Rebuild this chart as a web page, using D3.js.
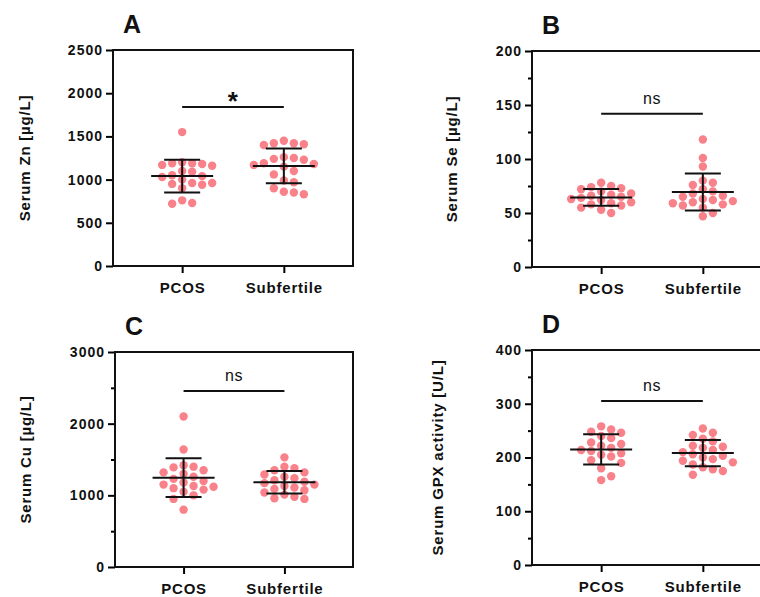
<!DOCTYPE html>
<html>
<head>
<meta charset="utf-8">
<script src="https://cdn.jsdelivr.net/npm/d3@7"></script>
<style>
  body { margin: 0; background: #fff; }
  text { font-family: "Liberation Sans", Arial, sans-serif; }
</style>
</head>
<body>
<script>
var width = 760, height = 597;

// groups on the x axis
var categories = ["PCOS", "Subfertile"];

// panel A - serum zinc (µg/L)
var znPcos = [1550, 1200, 1190, 1180, 1170, 1190, 1160, 1100, 1090, 1050, 1040,
              1030, 1000, 960, 950, 940, 960, 900, 760, 720, 730];
var znSub  = [1450, 1420, 1410, 1400, 1420, 1260, 1250, 1240, 1230, 1190, 1180,
              1170, 1150, 1100, 1060, 990, 970, 900, 850, 830, 860];

// panel B - serum selenium (µg/L)
var sePcos = [78, 75, 74, 73, 72, 70, 68, 67, 66, 65, 64, 63, 62, 60, 59, 58, 57, 55, 53, 50];
var seSub  = [118, 101, 93, 80, 78, 76, 72, 70, 68, 66, 65, 63, 62, 61, 60, 59, 58, 57, 55, 50, 47];

// panel C - serum copper (µg/L)
var cuPcos = [2100, 1640, 1420, 1400, 1390, 1350, 1320, 1300, 1260, 1230, 1200,
              1180, 1150, 1130, 1120, 1100, 1080, 1050, 1000, 950, 800];
var cuSub  = [1530, 1400, 1380, 1350, 1320, 1290, 1260, 1240, 1210, 1190, 1170,
              1150, 1130, 1110, 1090, 1070, 1040, 1010, 980, 960, 950];

// panel D - serum GPX activity (U/L)
var gpxPcos = [258, 252, 248, 246, 240, 236, 228, 225, 222, 218, 214, 212, 208,
               205, 202, 195, 190, 180, 165, 158];
var gpxSub  = [254, 246, 242, 235, 230, 222, 220, 218, 214, 210, 206, 203, 200,
               197, 194, 191, 187, 182, 178, 175, 168];

// y ticks
var znTicks = [0, 500, 1000, 1500, 2000, 2500];
var seTicks = [0, 50, 100, 150, 200];
var seMinor = [25, 75, 125, 175];
var cuTicks = [0, 1000, 2000, 3000];
var cuMinor = [500, 1500, 2500];
var gpxTicks = [0, 100, 200, 300, 400];
var gpxMinor = [50, 150, 250, 350];

// titles and comparison results
var letters = ["A", "B", "C", "D"];
var yTitles = ["Serum Zn [µg/L]", "Serum Se [µg/L]", "Serum Cu [µg/L]", "Serum GPX activity [U/L]"];
var sigLabels = ["*", "ns", "ns", "ns"];
var sigLevels = [1840, 142, 2455, 305];

var panels = [
  {values: [znPcos, znSub],   ticks: znTicks,  minor: []},
  {values: [sePcos, seSub],   ticks: seTicks,  minor: seMinor},
  {values: [cuPcos, cuSub],   ticks: cuTicks,  minor: cuMinor},
  {values: [gpxPcos, gpxSub], ticks: gpxTicks, minor: gpxMinor}
];

// where each frame sits on the page
var layout = [
  {left: 113, top: 50,  w: 240, h: 216, titleOff: 83},
  {left: 532, top: 51,  w: 240, h: 216, titleOff: 75},
  {left: 115, top: 352, w: 238, h: 215, titleOff: 84},
  {left: 532, top: 350, w: 240, h: 215, titleOff: 89}
];

var dotR = 4.2, step = 10, minDist = 8.5, maxK = 9;
var dotColor = "#f76f7a";

var svg = d3.select("body")
            .append("svg")
                .attr("width", width)
                .attr("height", height);

// row-style swarm: push points sideways until they stop overlapping,
// but keep the cloud narrow (falls back to the least crowded slot)
function swarm(vals, yScale) {
    var placed = [];
    vals.slice().sort(function(a, b) { return b - a; }).forEach(function(v) {
        var py = yScale(v);
        var best = null, bestD = -1;
        for (var k = 0; k < maxK; k++) {
            var off = (k % 2 ? 1 : -1) * Math.ceil(k / 2) * step;
            var dmin = d3.min(placed, function(p) {
                return Math.hypot(p.x - off, p.y - py);
            });
            if (dmin === undefined || dmin >= minDist) { best = off; break; }
            if (dmin > bestD) { bestD = dmin; best = off; }
        }
        placed.push({x: best, y: py});
    });
    return placed;
}

panels.forEach(function(p, i) {
    var L = layout[i];
    var g = svg.append("g")
        .attr("transform", "translate(" + L.left + "," + L.top + ")");

    var xScale = d3.scalePoint()
        .domain(categories)
        .range([0, L.w])
        .padding(0.68);

    var yScale = d3.scaleLinear()
        .domain([0, d3.max(p.ticks)])
        .range([L.h, 0]);

    // minor ticks
    if (p.minor.length) {
        var mn = g.append("g")
            .call(d3.axisLeft(yScale).tickValues(p.minor).tickSize(4).tickSizeOuter(0).tickFormat(""));
        mn.select(".domain").remove();
        mn.selectAll("line").attr("stroke-width", 2);
    }

    // y axis
    var ya = g.append("g")
        .call(d3.axisLeft(yScale).tickValues(p.ticks).tickSize(7).tickSizeOuter(0)
                .tickPadding(3).tickFormat(d3.format("d")));
    ya.select(".domain").remove();
    ya.selectAll("line").attr("stroke-width", 2);
    ya.selectAll("text")
        .attr("font-size", 14)
        .attr("font-weight", "bold")
        .attr("letter-spacing", 1)
        .attr("font-family", "Liberation Sans, Arial, sans-serif")
        .attr("fill", "#111");

    // x axis
    var xa = g.append("g")
        .attr("transform", "translate(0," + L.h + ")")
        .call(d3.axisBottom(xScale).tickSize(7).tickSizeOuter(0).tickPadding(9));
    xa.select(".domain").remove();
    xa.selectAll("line").attr("stroke-width", 2);
    xa.selectAll("text")
        .attr("font-size", 15)
        .attr("font-weight", "bold")
        .attr("letter-spacing", 0.8)
        .attr("font-family", "Liberation Sans, Arial, sans-serif")
        .attr("fill", "#111");

    // dots
    p.values.forEach(function(vals, j) {
        var cx = xScale(categories[j]);
        g.append("g")
            .selectAll("circle")
            .data(swarm(vals, yScale))
            .enter()
            .append("circle")
                .attr("cx", function(d) { return cx + d.x; })
                .attr("cy", function(d) { return d.y; })
                .attr("r", dotR)
                .attr("fill", dotColor)
                .attr("fill-opacity", 0.88);

        // mean and SD
        var m = d3.mean(vals), sd = d3.deviation(vals);
        var bars = g.append("g").attr("stroke", "#111").attr("stroke-width", 2);
        bars.append("line")
            .attr("x1", cx - 31).attr("x2", cx + 31)
            .attr("y1", yScale(m)).attr("y2", yScale(m));
        bars.append("line")
            .attr("x1", cx).attr("x2", cx)
            .attr("y1", yScale(m - sd)).attr("y2", yScale(m + sd));
        [m - sd, m + sd].forEach(function(v) {
            bars.append("line")
                .attr("x1", cx - 18).attr("x2", cx + 18)
                .attr("y1", yScale(v)).attr("y2", yScale(v));
        });
    });

    // frame
    g.append("rect")
        .attr("width", L.w)
        .attr("height", L.h)
        .attr("fill", "none")
        .attr("stroke", "#111")
        .attr("stroke-width", 2);

    // comparison bar
    var sy = yScale(sigLevels[i]);
    g.append("line")
        .attr("x1", xScale(categories[0])).attr("x2", xScale(categories[1]))
        .attr("y1", sy).attr("y2", sy)
        .attr("stroke", "#111")
        .attr("stroke-width", 2);
    var star = sigLabels[i] == "*";
    g.append("text")
        .attr("x", (xScale(categories[0]) + xScale(categories[1])) / 2)
        .attr("y", star ? sy + 3 : sy - 10)
        .attr("text-anchor", "middle")
        .attr("font-size", star ? 26 : 16)
        .attr("font-weight", star ? "bold" : "normal")
        .attr("letter-spacing", 0.5)
        .attr("fill", "#111")
        .text(sigLabels[i]);

    // y title
    g.append("text")
        .attr("transform", "translate(" + (-L.titleOff) + "," + (L.h / 2) + ") rotate(-90)")
        .attr("text-anchor", "middle")
        .attr("font-size", 15)
        .attr("font-weight", "bold")
        .attr("letter-spacing", 0.8)
        .attr("fill", "#111")
        .text(yTitles[i]);

    // panel letter
    g.append("text")
        .attr("x", 10)
        .attr("y", -17)
        .attr("font-size", 25)
        .attr("font-weight", "bold")
        .attr("fill", "#111")
        .text(letters[i]);
});
</script>
</body>
</html>
